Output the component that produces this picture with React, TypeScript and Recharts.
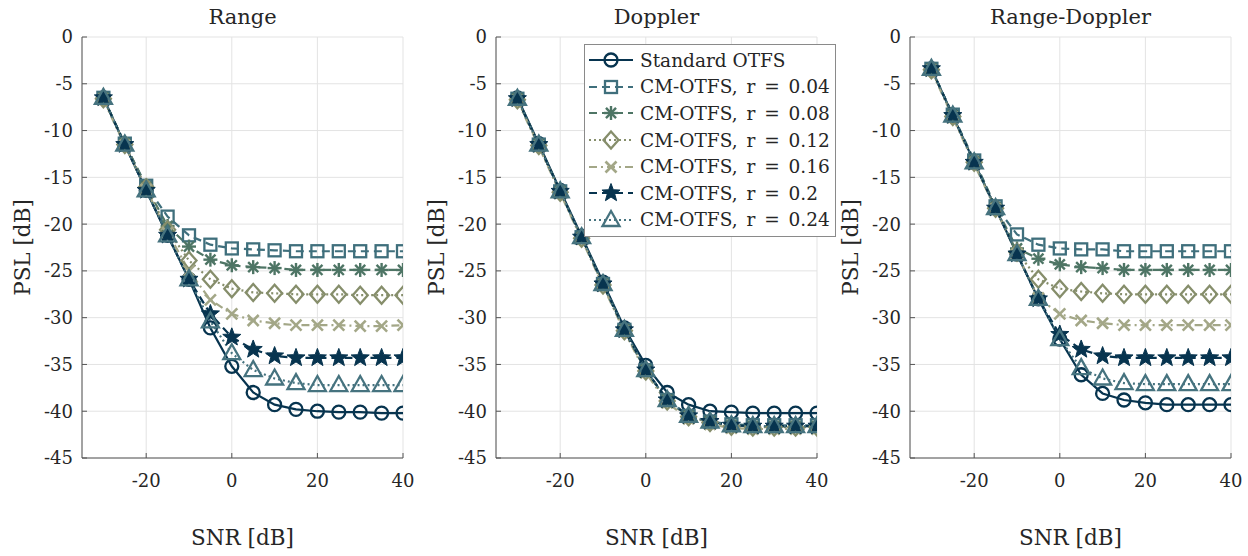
import React from 'react';
import { LineChart, Line, XAxis, YAxis, CartesianGrid, Label } from 'recharts';

const snr = [-30, -25, -20, -15, -10, -5, 0, 5, 10, 15, 20, 25, 30, 35, 40];
const xTicks = [-20, 0, 20, 40];
const yTicks = [0, -5, -10, -15, -20, -25, -30, -35, -40, -45];

const seriesNames = [
  'Standard OTFS',
  'CM-OTFS, r = 0.04',
  'CM-OTFS, r = 0.08',
  'CM-OTFS, r = 0.12',
  'CM-OTFS, r = 0.16',
  'CM-OTFS, r = 0.2',
  'CM-OTFS, r = 0.24',
];
const colors = ['#07344f', '#3f6f7c', '#4e7565', '#868e6b', '#a3a787', '#07344f', '#46737f'];
const dashes = ['', '8 5', '8 5', '2 3', '8 4 2 4', '8 5', '2 3'];
const markers = ['circle', 'square', 'asterisk', 'diamond', 'cross', 'star', 'triangle'];

// Range
const rangeStd = [-6.5, -11.5, -16.4, -21.2, -25.9, -31.1, -35.2, -38.0, -39.3, -39.8, -40.0, -40.1, -40.1, -40.2, -40.2];
const rangeR04 = [-6.5, -11.4, -15.9, -19.2, -21.2, -22.2, -22.6, -22.7, -22.8, -22.9, -22.9, -22.9, -22.9, -22.9, -22.9];
const rangeR08 = [-6.5, -11.4, -16.0, -20.2, -22.4, -23.8, -24.4, -24.6, -24.7, -24.9, -24.9, -24.9, -24.9, -24.9, -24.9];
const rangeR12 = [-6.6, -11.5, -16.1, -20.6, -23.9, -25.9, -26.9, -27.3, -27.4, -27.5, -27.5, -27.5, -27.6, -27.6, -27.6];
const rangeR16 = [-6.7, -11.6, -16.3, -20.9, -25.0, -28.1, -29.6, -30.3, -30.6, -30.8, -30.8, -30.8, -30.9, -30.9, -30.8];
const rangeR20 = [-6.5, -11.5, -16.4, -21.2, -25.9, -29.6, -32.1, -33.4, -34.1, -34.3, -34.3, -34.3, -34.3, -34.3, -34.3];
const rangeR24 = [-6.5, -11.5, -16.4, -21.2, -25.9, -30.4, -33.8, -35.6, -36.5, -37.0, -37.2, -37.2, -37.2, -37.2, -37.2];

// Doppler
const dopStd = [-6.5, -11.4, -16.4, -21.3, -26.2, -31.1, -35.1, -38.0, -39.3, -40.0, -40.1, -40.2, -40.2, -40.2, -40.2];
const dopR04 = [-6.6, -11.5, -16.5, -21.4, -26.4, -31.3, -35.6, -38.8, -40.5, -41.1, -41.4, -41.5, -41.5, -41.5, -41.5];
const dopR08 = [-6.6, -11.5, -16.5, -21.4, -26.4, -31.3, -35.6, -38.8, -40.5, -41.1, -41.5, -41.6, -41.6, -41.6, -41.6];
const dopR12 = [-6.7, -11.6, -16.6, -21.5, -26.5, -31.4, -35.7, -38.9, -40.6, -41.2, -41.6, -41.7, -41.7, -41.7, -41.7];
const dopR16 = [-6.8, -11.7, -16.7, -21.6, -26.6, -31.5, -35.9, -39.1, -40.8, -41.4, -41.8, -41.9, -41.9, -41.9, -41.9];
const dopR20 = [-6.6, -11.5, -16.5, -21.4, -26.4, -31.3, -35.6, -38.8, -40.5, -41.1, -41.5, -41.6, -41.6, -41.6, -41.6];
const dopR24 = [-6.6, -11.5, -16.5, -21.4, -26.4, -31.3, -35.6, -38.8, -40.5, -41.1, -41.5, -41.6, -41.6, -41.6, -41.6];

// Range-Doppler
const rdStd = [-3.4, -8.4, -13.4, -18.3, -23.2, -28.0, -32.3, -36.1, -38.1, -38.8, -39.1, -39.3, -39.3, -39.3, -39.3];
const rdR04 = [-3.4, -8.3, -13.2, -18.1, -21.1, -22.2, -22.6, -22.7, -22.7, -22.9, -22.9, -22.9, -22.9, -22.9, -22.9];
const rdR08 = [-3.4, -8.4, -13.3, -18.2, -22.6, -23.7, -24.3, -24.6, -24.7, -24.9, -24.9, -24.9, -24.9, -24.9, -24.9];
const rdR12 = [-3.5, -8.5, -13.4, -18.3, -23.0, -25.9, -26.9, -27.2, -27.4, -27.5, -27.5, -27.5, -27.5, -27.5, -27.5];
const rdR16 = [-3.6, -8.6, -13.6, -18.4, -23.2, -27.9, -29.6, -30.3, -30.6, -30.8, -30.8, -30.8, -30.8, -30.8, -30.8];
const rdR20 = [-3.4, -8.4, -13.4, -18.3, -23.2, -28.0, -31.8, -33.4, -34.1, -34.3, -34.3, -34.3, -34.3, -34.3, -34.3];
const rdR24 = [-3.4, -8.4, -13.4, -18.3, -23.2, -28.0, -32.3, -35.4, -36.5, -37.0, -37.1, -37.1, -37.1, -37.1, -37.1];

const panels = [
  { title: 'Range', series: [rangeStd, rangeR04, rangeR08, rangeR12, rangeR16, rangeR20, rangeR24] },
  { title: 'Doppler', series: [dopStd, dopR04, dopR08, dopR12, dopR16, dopR20, dopR24] },
  { title: 'Range-Doppler', series: [rdStd, rdR04, rdR08, rdR12, rdR16, rdR20, rdR24] },
];

const FONT = 'DejaVu Serif, Liberation Serif, Noto Serif, serif';
const TEXT = '#262626';

function starPoints(cx: number, cy: number, R: number, r: number) {
  const pts: string[] = [];
  for (let i = 0; i < 10; i++) {
    const rad = i % 2 === 0 ? R : r;
    const a = -Math.PI / 2 + (i * Math.PI) / 5;
    pts.push(`${cx + rad * Math.cos(a)},${cy + rad * Math.sin(a)}`);
  }
  return pts.join(' ');
}

function Marker({ kind, color, cx, cy }: { kind: string; color: string; cx: number; cy: number }) {
  if (cx == null || cy == null || isNaN(cx) || isNaN(cy)) return null;
  const sw = 2.3;
  switch (kind) {
    case 'circle':
      return <circle cx={cx} cy={cy} r={6.5} fill="none" stroke={color} strokeWidth={sw} />;
    case 'square':
      return <rect x={cx - 6} y={cy - 6} width={12} height={12} fill="none" stroke={color} strokeWidth={sw} />;
    case 'asterisk': {
      const r = 7;
      const d = r * 0.72;
      return (
        <g stroke={color} strokeWidth={2.4}>
          <line x1={cx - r} y1={cy} x2={cx + r} y2={cy} />
          <line x1={cx} y1={cy - r} x2={cx} y2={cy + r} />
          <line x1={cx - d} y1={cy - d} x2={cx + d} y2={cy + d} />
          <line x1={cx - d} y1={cy + d} x2={cx + d} y2={cy - d} />
        </g>
      );
    }
    case 'diamond':
      return (
        <polygon
          points={`${cx},${cy - 8.5} ${cx + 7.5},${cy} ${cx},${cy + 8.5} ${cx - 7.5},${cy}`}
          fill="none"
          stroke={color}
          strokeWidth={sw}
        />
      );
    case 'cross': {
      const r = 5.5;
      return (
        <g stroke={color} strokeWidth={2.6}>
          <line x1={cx - r} y1={cy - r} x2={cx + r} y2={cy + r} />
          <line x1={cx - r} y1={cy + r} x2={cx + r} y2={cy - r} />
        </g>
      );
    }
    case 'star':
      return <polygon points={starPoints(cx, cy, 9.5, 4)} fill={color} stroke={color} strokeWidth={1} />;
    case 'triangle':
      return (
        <polygon
          points={`${cx},${cy - 9} ${cx + 8.5},${cy + 6} ${cx - 8.5},${cy + 6}`}
          fill="none"
          stroke={color}
          strokeWidth={sw}
          strokeLinejoin="miter"
        />
      );
    default:
      return null;
  }
}

function Panel({ title, series, left, showLegend }: { title: string; series: number[][]; left: number; showLegend: boolean }) {
  const data = snr.map((x, i) => {
    const row: any = { snr: x };
    series.forEach((s, k) => {
      row['s' + k] = s[i];
    });
    return row;
  });
  const W = 415;
  const H = 556;
  return (
    <div style={{ position: 'absolute', left, top: 0, width: W, height: H }}>
      <div
        style={{
          position: 'absolute',
          left: 82,
          width: 321,
          top: 3,
          textAlign: 'center',
          fontFamily: FONT,
          fontSize: 21,
          color: TEXT,
          lineHeight: '28px',
        }}
      >
        {title}
      </div>
      <LineChart width={W} height={H} data={data} margin={{ top: 37, right: 12, bottom: 0, left: 12 }}>
        <CartesianGrid stroke="#e3e3e3" strokeWidth={1} />
        <XAxis
          dataKey="snr"
          type="number"
          domain={[-35, 40]}
          ticks={xTicks}
          height={98}
          tickSize={-5}
          tickMargin={21}
          allowDataOverflow
          stroke="#555"
          tick={{ fill: TEXT, fontFamily: FONT, fontSize: 18 }}
        >
          <Label
            content={(p: any) => {
              const vb = p.viewBox || {};
              return (
                <text
                  x={vb.x + vb.width / 2}
                  y={vb.y + 79}
                  textAnchor="middle"
                  dominantBaseline="central"
                  fill={TEXT}
                  fontFamily={FONT}
                  fontSize={21.5}
                >
                  SNR [dB]
                </text>
              );
            }}
          />
        </XAxis>
        <XAxis xAxisId="top" orientation="top" type="number" domain={[-35, 40]} height={0} tick={false} stroke="#555" />
        <YAxis
          type="number"
          domain={[-45, 0]}
          ticks={yTicks}
          width={70}
          tickSize={-5}
          tickMargin={14}
          allowDataOverflow
          stroke="#555"
          tick={{ fill: TEXT, fontFamily: FONT, fontSize: 18 }}
        >
          <Label
            content={(p: any) => {
              const vb = p.viewBox || {};
              const x = vb.x + 10;
              const y = vb.y + vb.height / 2;
              return (
                <text
                  x={x}
                  y={y}
                  transform={`rotate(-90 ${x} ${y})`}
                  textAnchor="middle"
                  dominantBaseline="central"
                  fill={TEXT}
                  fontFamily={FONT}
                  fontSize={21.5}
                >
                  PSL [dB]
                </text>
              );
            }}
          />
        </YAxis>
        <YAxis yAxisId="right" orientation="right" type="number" domain={[-45, 0]} width={0} tick={false} stroke="#555" />
        {series.map((_, k) => (
          <Line
            key={k}
            dataKey={'s' + k}
            name={seriesNames[k]}
            stroke={colors[k]}
            strokeWidth={2.2}
            strokeDasharray={dashes[k] || undefined}
            isAnimationActive={false}
            dot={(p: any) => <Marker key={'m' + k + '-' + p.index} kind={markers[k]} color={colors[k]} cx={p.cx} cy={p.cy} />}
            activeDot={false}
          />
        ))}
      </LineChart>
      {showLegend && (
        <div
          style={{
            position: 'absolute',
            left: 170,
            top: 44,
            width: 252,
            boxSizing: 'border-box',
            background: 'white',
            border: '1px solid #8a8a8a',
            padding: '2px 0 3px 0',
            fontFamily: FONT,
            fontSize: 18.5,
            color: TEXT,
            overflow: 'hidden',
          }}
        >
          {seriesNames.map((n, k) => (
            <div key={k} style={{ display: 'flex', alignItems: 'center', height: 26.6 }}>
              <svg width={50} height={24} style={{ flex: 'none', marginLeft: 2 }}>
                <line x1={2} y1={12} x2={46} y2={12} stroke={colors[k]} strokeWidth={2.2} strokeDasharray={dashes[k] || undefined} />
                <Marker kind={markers[k]} color={colors[k]} cx={24} cy={12} />
              </svg>
              <span style={{ marginLeft: 3, whiteSpace: 'nowrap', wordSpacing: k === 0 ? 0 : 3 }}>{n}</span>
            </div>
          ))}
        </div>
      )}
    </div>
  );
}

export default function App() {
  return (
    <div style={{ position: 'absolute', left: 0, top: 0, width: 1248, height: 556, background: 'white', overflow: 'hidden' }}>
      <Panel title={panels[0].title} series={panels[0].series} left={0} showLegend={false} />
      <Panel title={panels[1].title} series={panels[1].series} left={414} showLegend={true} />
      <Panel title={panels[2].title} series={panels[2].series} left={828} showLegend={false} />
    </div>
  );
}
